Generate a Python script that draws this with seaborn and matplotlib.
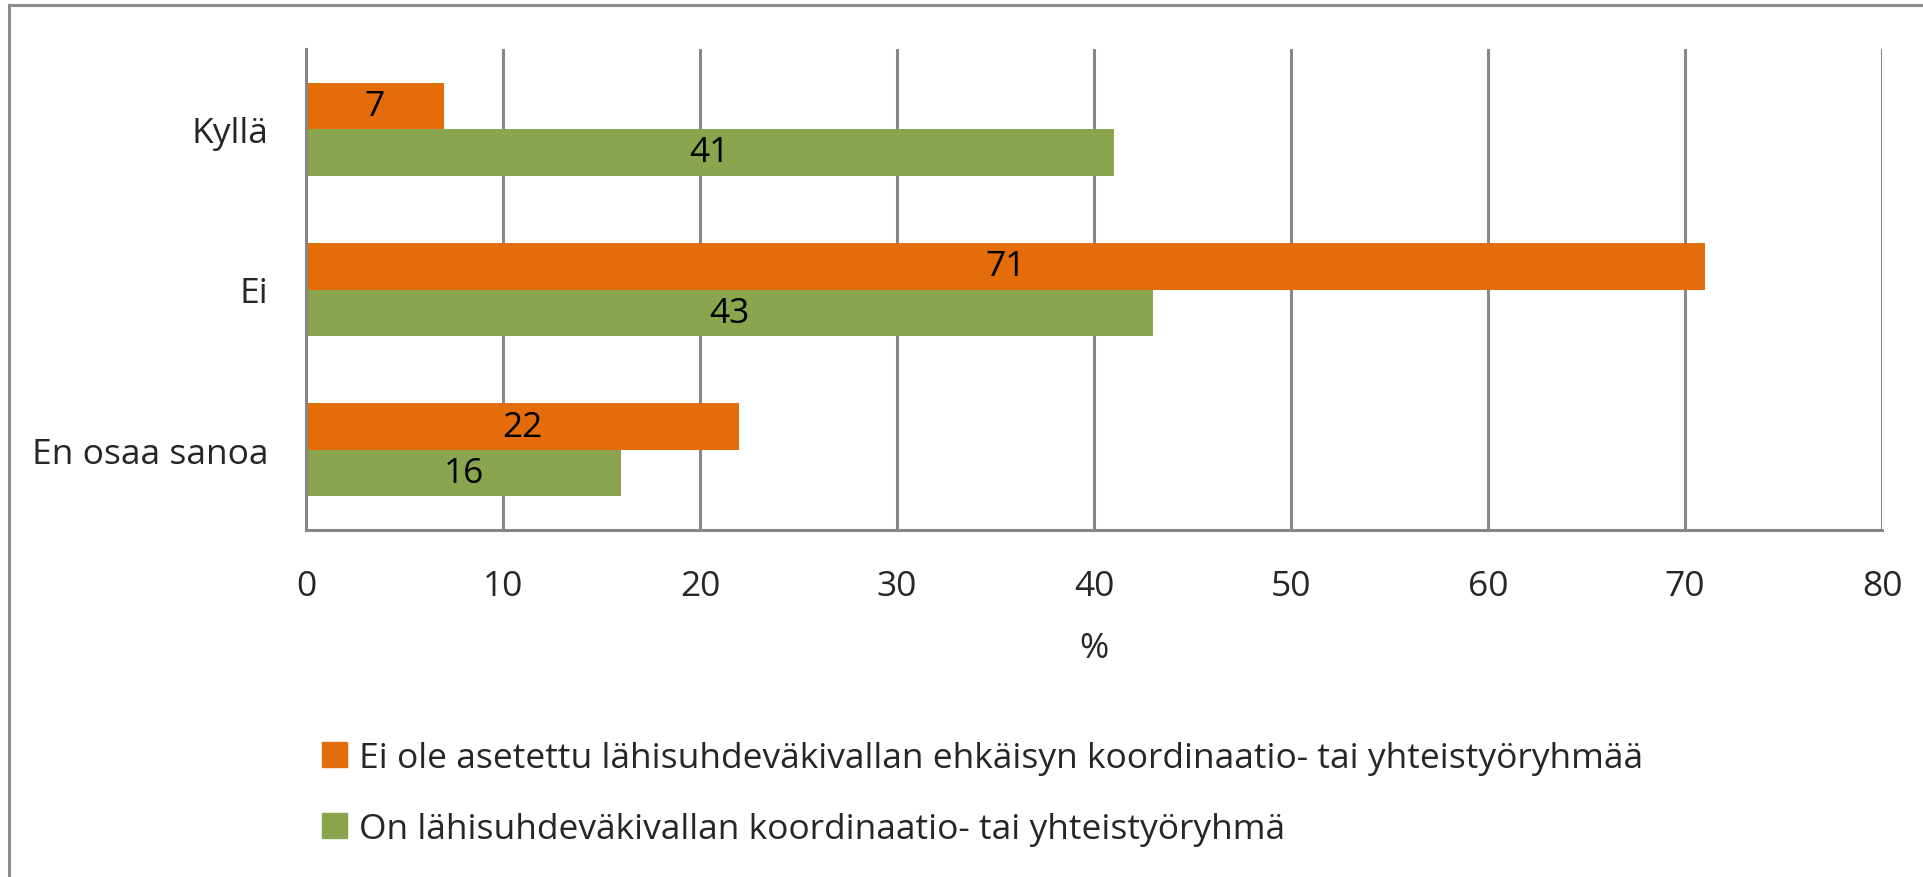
import pandas as pd
import matplotlib.pyplot as plt
import seaborn as sns
from matplotlib.patches import Rectangle
from matplotlib.ticker import FixedLocator

categories = ["Kyllä", "Ei", "En osaa sanoa"]
series_names = [
    "Ei ole asetettu lähisuhdeväkivallan ehkäisyn koordinaatio- tai yhteistyöryhmää",
    "On lähisuhdeväkivallan koordinaatio- tai yhteistyöryhmä",
]
no_group = [7, 71, 22]
has_group = [41, 43, 16]
colors = ["#E46C0A", "#8AA54E"]

df = pd.DataFrame({
    "category": categories * 2,
    "value": no_group + has_group,
    "series": [series_names[0]] * 3 + [series_names[1]] * 3,
})

sns.set_theme(style="white")
plt.rcParams["font.family"] = ["Open Sans", "DejaVu Sans"]
fs = 25.5
grey = "#878787"

fig = plt.figure(figsize=(19.24, 8.78), dpi=100)
W, H = 1924, 878
ax = fig.add_axes([306 / W, 1 - 531 / H, (1882 - 306) / W, (531 - 50) / H])

sns.barplot(data=df, x="value", y="category", hue="series", orient="h",
            palette=colors, width=0.58, saturation=1, ax=ax, legend=False,
            linewidth=0)

for c in ax.containers:
    ax.bar_label(c, label_type="center", fontsize=fs, color="black")

ax.set_xlim(0, 80)
ax.set_ylim(2.5, -0.5)
ax.set_xticks(range(0, 81, 10))
ax.tick_params(axis="x", labelsize=fs, length=10, width=2.2, color=grey,
               direction="out", pad=18)
ax.tick_params(axis="y", which="major", labelsize=fs, length=0, pad=27)
ax.yaxis.set_minor_locator(FixedLocator([-0.5, 0.5, 1.5, 2.5]))
ax.tick_params(axis="y", which="minor", length=10, width=2.2, color=grey,
               direction="out")
ax.grid(axis="x", color=grey, linewidth=2.2)
ax.set_axisbelow(True)
for s in ["top", "right"]:
    ax.spines[s].set_visible(False)
for s in ["left", "bottom"]:
    ax.spines[s].set_color(grey)
    ax.spines[s].set_linewidth(2.2)
ax.set_ylabel("")
ax.set_xlabel("%", fontsize=fs, labelpad=20)

handles = [Rectangle((0, 0), 1, 1, color=c) for c in colors]
fig.legend(handles, series_names, loc="upper left",
           bbox_to_anchor=(322 / W, 1 - 742 / H), frameon=False,
           fontsize=fs, handlelength=0.7, handleheight=0.7,
           handletextpad=0.35, labelspacing=1.05, borderpad=0,
           borderaxespad=0)

# outer chart frame (only top and left edges visible)
fig.patches.append(Rectangle((9 / W, -0.1), 1.2, 1 - 6 / H + 0.1,
                             transform=fig.transFigure, fill=False,
                             edgecolor="#8c8c8c", linewidth=2.2))

plt.savefig("out.png", dpi=100)
